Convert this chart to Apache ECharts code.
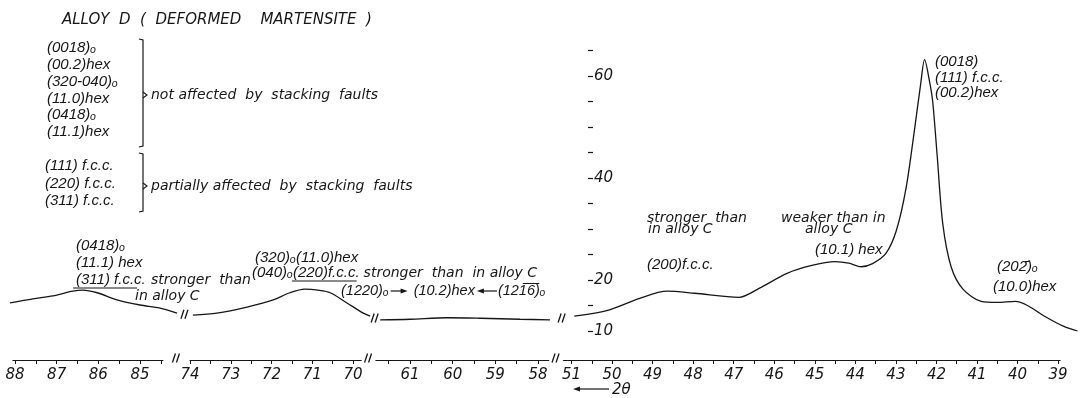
<!DOCTYPE html>
<html>
<head>
<meta charset="utf-8">
<script src="https://cdn.jsdelivr.net/npm/echarts@6/dist/echarts.min.js"></script>
<style>
  html, body { margin: 0; padding: 0; background: #ffffff; }
  #chart { width: 1080px; height: 398px; }
</style>
</head>
<body>
<div id="chart"></div>
<script>
// Diffraction trace of alloy D (deformed martensite): intensity against 2θ,
// drawn on a broken 2θ axis made of four separate pieces (88–84.5, 74–70, 61.5–58, 51–39).

// 2θ (degrees) and intensity for each piece of the trace
const seg1TwoTheta  = [88.12, 87.57, 87.09, 86.61, 86.37, 86.03, 85.55, 85.00, 84.52, 84.11];
const seg1Intensity = [15.5, 16.3, 16.9, 17.8, 18.0, 17.5, 16.1, 15.1, 14.5, 13.5];

const seg2TwoTheta  = [73.93, 73.34, 72.60, 71.96, 71.55, 71.18, 70.86, 70.56, 70.15, 69.75, 69.58];
const seg2Intensity = [13.1, 13.5, 14.7, 16.1, 17.5, 18.2, 18.0, 17.5, 15.5, 13.5, 12.9];

const seg3TwoTheta  = [61.70, 61.00, 60.13, 59.36, 58.42, 57.72];
const seg3Intensity = [12.2, 12.3, 12.6, 12.5, 12.3, 12.2];

const seg4TwoTheta  = [50.93, 50.08, 49.31, 48.63, 47.95, 46.85, 46.34, 45.66, 45.07, 44.47,
                       44.13, 43.82, 43.54, 43.21, 42.95, 42.71, 42.50, 42.35, 42.25, 42.13,
                       42.05, 41.94, 41.80, 41.59, 41.30, 40.85, 40.45, 40.00, 39.70, 39.30,
                       38.80, 38.46];
const seg4Intensity = [12.9, 14.1, 16.4, 17.8, 17.4, 16.6, 18.4, 21.3, 22.8, 23.6,
                       23.3, 22.6, 23.2, 25.2, 29.7, 38.0, 49.5, 58.3, 63.2, 59.0,
                       55.0, 44.5, 31.0, 22.5, 18.2, 15.8, 15.6, 15.8, 15.0, 13.0,
                       10.9, 10.0];

// 2θ tick marks (every half degree) and tick labels for each axis piece
const xTicks1 = [88, 87.5, 87, 86.5, 86, 85.5, 85, 84.5];
const xTicks2 = [74, 73.5, 73, 72.5, 72, 71.5, 71, 70.5, 70];
const xTicks3 = [61.5, 61, 60.5, 60, 59.5, 59, 58.5, 58];
const xTicks4 = [51, 50.5, 50, 49.5, 49, 48.5, 48, 47.5, 47, 46.5, 46, 45.5, 45, 44.5, 44,
                 43.5, 43, 42.5, 42, 41.5, 41, 40.5, 40, 39.5, 39];
const xLabels1 = [88, 87, 86, 85];
const xLabels2 = [74, 73, 72, 71, 70];
const xLabels3 = [61, 60, 59, 58];
const xLabels4 = [51, 50, 49, 48, 47, 46, 45, 44, 43, 42, 41, 40, 39];

// intensity scale labels
const yLabels = [10, 20, 40, 60];

const INK = '#161616';
const WORD_FONT = '"DejaVu Sans", "Liberation Sans", sans-serif';
const INDEX_FONT = '"Liberation Sans", "DejaVu Sans", sans-serif';

// Each piece: the drawn 2θ axis (left/width in px, min/max in degrees) and a slightly
// wider plotting range (pMin/pMax) so the trace may run a little past the axis ends.
const pieces = [
  { left: 12.9,  width: 150.0, min: 84.45, max: 88.05, pMin: 84.0,  pMax: 88.2, tx: seg1TwoTheta, iy: seg1Intensity, ticks: xTicks1, labels: xLabels1 },
  { left: 190.0, width: 171.2, min: 69.8,  max: 74.0,  pMin: 69.5,  pMax: 74.0, tx: seg2TwoTheta, iy: seg2Intensity, ticks: xTicks2, labels: xLabels2 },
  { left: 375.9, width: 172.8, min: 57.75, max: 61.8,  pMin: 57.6,  pMax: 61.8, tx: seg3TwoTheta, iy: seg3Intensity, ticks: xTicks3, labels: xLabels3 },
  { left: 563.4, width: 496.7, min: 38.95, max: 51.2,  pMin: 38.4,  pMax: 51.2, tx: seg4TwoTheta, iy: seg4Intensity, ticks: xTicks4, labels: xLabels4 }
];
pieces.forEach(p => {
  const s = p.width / (p.max - p.min);          // px per degree
  p.pLeft = p.left + (p.max - p.pMax) * s;      // axis runs right-to-left in 2θ
  p.pWidth = (p.pMax - p.pMin) * s;
});
const N = pieces.length;
const GRID_TOP = 50.5, GRID_BOTTOM = 67, X_AXIS_OFFSET = 29, Y_AXIS_X = 588;
const Y_MIN = 10, Y_MAX = 65;

const chart = echarts.init(document.getElementById('chart'), null, { renderer: 'canvas' });

const grids = pieces.map(p => ({ left: p.left, width: p.width, top: GRID_TOP, bottom: GRID_BOTTOM }))
  .concat(pieces.map(p => ({ left: p.pLeft, width: p.pWidth, top: GRID_TOP, bottom: GRID_BOTTOM })));

const axisX = pieces.map((p, i) => ({
  gridIndex: i,
  type: 'value',
  inverse: true,
  min: p.min,
  max: p.max,
  offset: X_AXIS_OFFSET,
  axisLine: { show: true, onZero: false, lineStyle: { color: INK, width: 1.2 } },
  axisTick: { show: true, length: 4, customValues: p.ticks, lineStyle: { color: INK, width: 1 } },
  axisLabel: {
    show: true, customValues: p.labels, margin: 8,
    fontSize: 15, fontStyle: 'italic', fontFamily: WORD_FONT, color: INK,
    formatter: v => String(v)
  },
  splitLine: { show: false }
}));
const plotX = pieces.map((p, i) => ({
  gridIndex: N + i, type: 'value', inverse: true, min: p.pMin, max: p.pMax, show: false
}));

const axisY = pieces.map((p, i) => i < N - 1 ? {
  gridIndex: i, type: 'value', min: Y_MIN, max: Y_MAX, show: false
} : {
  gridIndex: i,
  type: 'value',
  min: Y_MIN,
  max: Y_MAX,
  interval: 5,
  position: 'left',
  offset: -(Y_AXIS_X - p.left),
  axisLine: { show: false },
  axisTick: { show: true, inside: true, length: 5, lineStyle: { color: INK, width: 1.2 } },
  axisLabel: {
    inside: true, margin: 6,
    fontSize: 15, fontStyle: 'italic', fontFamily: WORD_FONT, color: INK,
    formatter: v => (yLabels.indexOf(v) >= 0 ? String(v) : '')
  },
  splitLine: { show: false }
});
const plotY = pieces.map((p, i) => ({ gridIndex: N + i, type: 'value', min: Y_MIN, max: Y_MAX, show: false }));

chart.setOption({
  animation: false,
  backgroundColor: '#ffffff',
  grid: grids,
  xAxis: axisX.concat(plotX),
  yAxis: axisY.concat(plotY),
  series: pieces.map((p, i) => ({
    type: 'line',
    xAxisIndex: N + i,
    yAxisIndex: N + i,
    data: p.tx.map((t, k) => [t, p.iy[k]]),
    symbol: 'none',
    smooth: 0.3,
    clip: false,
    silent: true,
    lineStyle: { color: INK, width: 1.3 }
  }))
});

// ---- annotations ----
const measureCtx = document.createElement('canvas').getContext('2d');
function fontOf(family, size) { return 'italic ' + (size || 14) + 'px ' + family; }
function widthOf(text, family, size) { measureCtx.font = fontOf(family, size); return measureCtx.measureText(text).width; }

function txtF(family, x, y, text, size) {
  return {
    type: 'text', x: x, y: y, silent: true,
    style: { text: text, fill: INK, font: fontOf(family, size), align: 'left', verticalAlign: 'middle' }
  };
}
// running text and crystallographic indices
const txt = (x, y, text, size) => txtF(WORD_FONT, x, y, text, size);
const idx = (x, y, text, size) => txtF(INDEX_FONT, x, y, text, size);

function seg(x1, y1, x2, y2, w) {
  return { type: 'line', silent: true, shape: { x1: x1, y1: y1, x2: x2, y2: y2 }, style: { stroke: INK, lineWidth: w || 1 } };
}
function arrow(xFrom, xTo, y) {
  const dir = xTo > xFrom ? 1 : -1;
  return [
    seg(xFrom, y, xTo - dir * 6, y, 1.2),
    { type: 'polygon', silent: true, shape: { points: [[xTo, y], [xTo - dir * 7, y - 2.6], [xTo - dir * 7, y + 2.6]] }, style: { fill: INK } }
  ];
}
function bracket(x, yTop, yBot, yMid) {
  return [
    { type: 'polyline', silent: true, shape: { points: [[x - 4, yTop], [x, yTop + 1], [x, yBot - 1], [x - 4, yBot]] }, style: { stroke: INK, fill: 'none', lineWidth: 1.2 } },
    { type: 'polyline', silent: true, shape: { points: [[x, yMid - 3], [x + 4, yMid], [x, yMid + 3]] }, style: { stroke: INK, fill: 'none', lineWidth: 1.1 } }
  ];
}
function breakMark(cx, cy) {
  return [seg(cx - 4, cy + 4.5, cx - 1, cy - 4.5, 1.3), seg(cx, cy + 4.5, cx + 3, cy - 4.5, 1.3)];
}

const O = '\u2092';
let g = [];
g.push(txt(62, 20, 'ALLOY  D  (  DEFORMED    MARTENSITE  )', 15));

['(0018)' + O, '(00.2)hex', '(320-040)' + O, '(11.0)hex', '(0418)' + O, '(11.1)hex']
  .forEach((s, k) => g.push(idx(47, 48 + k * 16.8, s, 15)));
g = g.concat(bracket(143, 39, 147, 95));
g.push(txt(151, 95, 'not affected  by  stacking  faults'));

['(111) f.c.c.', '(220) f.c.c.', '(311) f.c.c.']
  .forEach((s, k) => g.push(idx(45, 166 + k * 17.5, s, 15)));
g = g.concat(bracket(143, 153, 212, 186));
g.push(txt(151, 186, 'partially affected  by  stacking  faults'));

g.push(idx(76, 246, '(0418)' + O, 15));
g.push(idx(76, 263, '(11.1) hex', 15));
g.push(idx(76, 280, '(311) f.c.c.', 15));
g.push(seg(73, 288, 137, 288, 1.1));
g.push(txt(151, 280, 'stronger  than'));
g.push(txt(135, 296, 'in alloy C'));

g.push(idx(255, 258, '(320)' + O + '(11.0)hex', 15));
g.push(idx(252, 273, '(040)' + O, 15));
const w040 = widthOf('(040)' + O, INDEX_FONT, 15);
g.push(idx(252 + w040, 273, '(220)f.c.c.', 15));
const w220 = widthOf('(220)f.c.c.', INDEX_FONT, 15);
g.push(seg(252 + w040 - 1, 281, 252 + w040 + w220 - 3, 281, 1.1));
g.push(txt(252 + w040 + w220 + 4, 273, 'stronger  than  in alloy C'));

// reflections flanking (10.2)hex, laid out left to right
let cx = 341;
const rowY = 291;
g.push(idx(cx, rowY, '(1220)' + O, 14.5));
cx += widthOf('(1220)' + O, INDEX_FONT, 14.5) + 2;
g = g.concat(arrow(cx, cx + 17, rowY)); cx += 23;
g.push(idx(cx, rowY, '(10.2)hex', 14.5));
cx += widthOf('(10.2)hex', INDEX_FONT, 14.5) + 2;
g = g.concat(arrow(cx + 20, cx, rowY)); cx += 21;
g.push(idx(cx, rowY, '(12\u0031\u0305\u0036\u0305)' + O, 14.5));

g.push(txt(647, 218, 'stronger  than'));
g.push(txt(648, 229, 'in alloy C'));
g.push(idx(647, 265, '(200)f.c.c.', 15));
g.push(txt(781, 218, 'weaker than in'));
g.push(txt(805, 229, 'alloy C'));
g.push(idx(815, 250, '(10.1) hex', 15));

g.push(idx(935, 62, '(0018)', 15));
g.push(idx(935, 78, '(111) f.c.c.', 15));
g.push(idx(935, 93, '(00.2)hex', 15));
g.push(idx(997, 267, '(20\u0032\u0304)' + O, 15));
g.push(idx(993, 287, '(10.0)hex', 15));

// direction of increasing 2θ, under the axis
g = g.concat(arrow(609, 573, 389));
g.push(txt(612, 390, '2θ', 15));

// break marks on the trace, between the end of one piece and the start of the next,
// and matching breaks on the 2θ axis
for (let i = 0; i < N - 1; i++) {
  const a = pieces[i], b = pieces[i + 1];
  const pa = chart.convertToPixel({ xAxisIndex: N + i, yAxisIndex: N + i }, [a.tx[a.tx.length - 1], a.iy[a.iy.length - 1]]);
  const pb = chart.convertToPixel({ xAxisIndex: N + i + 1, yAxisIndex: N + i + 1 }, [b.tx[0], b.iy[0]]);
  g = g.concat(breakMark((pa[0] + pb[0]) / 2, (pa[1] + pb[1]) / 2));
  const axisLineY = chart.convertToPixel({ yAxisIndex: i }, Y_MIN) + X_AXIS_OFFSET;
  const ea = chart.convertToPixel({ xAxisIndex: i }, a.min);
  const eb = chart.convertToPixel({ xAxisIndex: i + 1 }, b.max);
  g = g.concat(breakMark((ea + eb) / 2, axisLineY - 2));
}

chart.setOption({ graphic: { elements: g } });
</script>
</body>
</html>
